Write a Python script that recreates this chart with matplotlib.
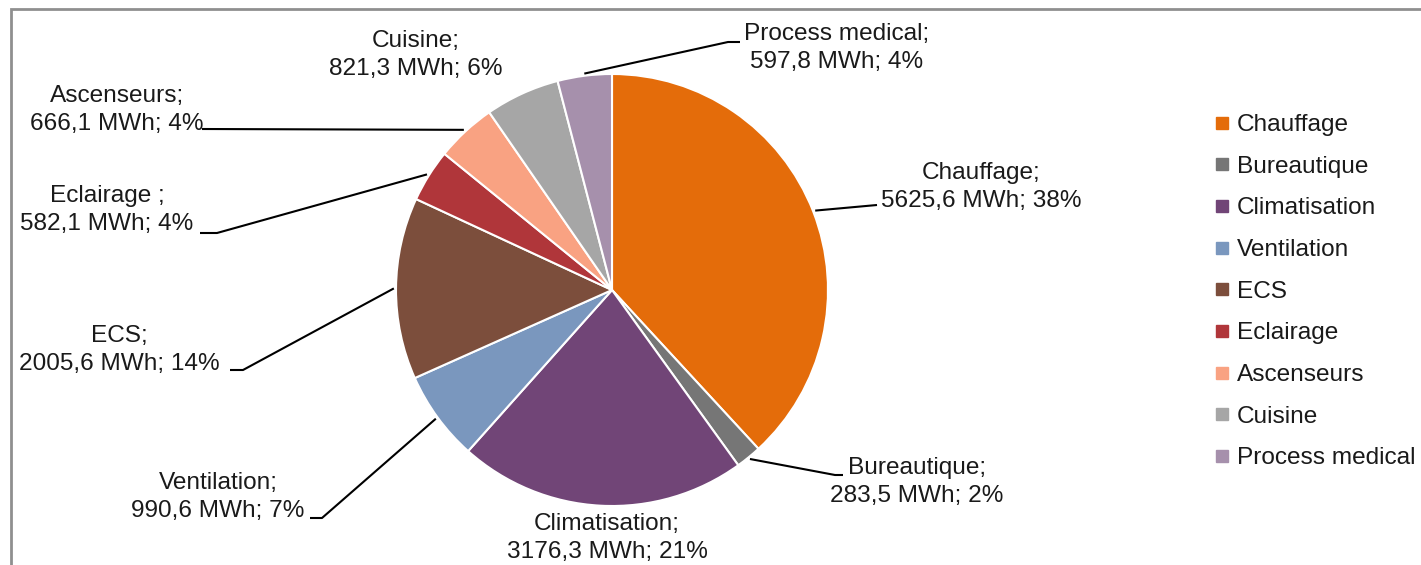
import numpy as np
import matplotlib
matplotlib.use('Agg')
import matplotlib.pyplot as plt
from matplotlib.patches import Rectangle
from matplotlib.lines import Line2D

# Consommation par usage (MWh)
categories = ['Chauffage', 'Bureautique', 'Climatisation', 'Ventilation', 'ECS',
              'Eclairage', 'Ascenseurs', 'Cuisine', 'Process medical']
values = [5625.6, 283.5, 3176.3, 990.6, 2005.6, 582.1, 666.1, 821.3, 597.8]
percents = [38, 2, 21, 7, 14, 4, 4, 6, 4]   # as printed on the chart
label_names = ['Chauffage', 'Bureautique', 'Climatisation', 'Ventilation', 'ECS',
               'Eclairage ', 'Ascenseurs', 'Cuisine', 'Process medical']
colors = ['#E46C0A', '#767676', '#714577', '#7A97BE', '#7C4E3C',
          '#B0363A', '#F9A282', '#A6A6A6', '#A690AC']

W, H = 1421, 565
plt.rcParams['font.family'] = ['Liberation Sans', 'DejaVu Sans']
fs = 17.6

fig = plt.figure(figsize=(W / 100, H / 100), dpi=100)
ax = fig.add_axes([0, 0, 1, 1])

# frame
fig.patches.append(Rectangle((11, -20), 1500, H - 9 + 20, transform=None,
                             fill=False, edgecolor='#8f8f8f', linewidth=2))

cx, cy, r = 612, H - 290, 216
wedges, _ = ax.pie(values, colors=colors, startangle=90, counterclock=False,
                   center=(cx, cy), radius=r, frame=True,
                   wedgeprops=dict(edgecolor='white', linewidth=1.5))
ax.set_xlim(0, W)
ax.set_ylim(0, H)
ax.set_aspect('equal')
ax.axis('off')

def fr(v):
    return ('%.1f' % v).replace('.', ',')

# label centers and leader points (image pixels, y from top)
label_pos = [(981, 187), (917, 482), (607, 538), (218, 497), (119, 350),
             (107, 210), (117, 110), (416, 55), (837, 48)]
leaders = [[(877, 205)],
           [(835, 475), (843, 475)],
           None,
           [(322, 518), (310, 518)],
           [(243, 370), (230, 370)],
           [(217, 233), (200, 233)],
           [(202, 129)],
           None,
           [(728, 42), (740, 42)]]

for w, name, v, p, (lx, ly), ld in zip(wedges, label_names, values, percents, label_pos, leaders):
    ax.text(lx, H - ly, '%s;\n%s MWh; %d%%' % (name, fr(v), p), ha='center', va='center',
            fontsize=fs, color='#1a1a1a', linespacing=1.3)
    if ld is not None:
        ang = np.deg2rad((w.theta1 + w.theta2) / 2)
        xs = [cx + 1.01 * r * np.cos(ang)] + [q[0] for q in ld]
        ys = [cy + 1.01 * r * np.sin(ang)] + [H - q[1] for q in ld]
        ax.plot(xs, ys, color='black', linewidth=1.5, solid_capstyle='butt')

handles = [Line2D([], [], marker='s', linestyle='none', markersize=8.5,
                  markerfacecolor=c, markeredgecolor=c) for c in colors]
leg = ax.legend(handles, categories, loc='upper left', bbox_to_anchor=(1215 / W, 1 - 114 / H),
                bbox_transform=fig.transFigure, frameon=False, fontsize=fs,
                handlelength=0.6, handletextpad=0.3, labelspacing=0.8,
                borderpad=0, borderaxespad=0)
for t in leg.get_texts():
    t.set_color('#1a1a1a')

fig.savefig('out.png', dpi=100, facecolor='white')
